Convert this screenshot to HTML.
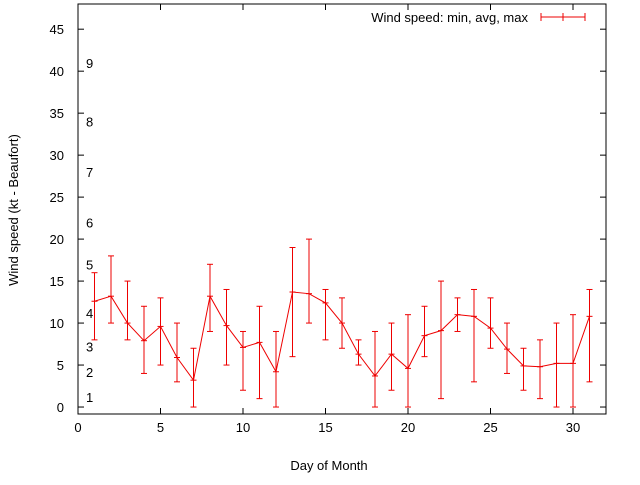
<!DOCTYPE html>
<html><head><meta charset="utf-8"><style>
body{margin:0;background:#fff}
svg text{font-family:"Liberation Sans",sans-serif;font-size:13px;fill:#000}
</style></head><body>
<svg id="chart" width="640" height="480" xmlns="http://www.w3.org/2000/svg">
<rect x="0" y="0" width="640" height="480" fill="#fff"/>
<g id="axes"></g>
<g id="marks"></g>
<text x="329" y="470" text-anchor="middle">Day of Month</text>
<text transform="translate(18,210) rotate(-90)" text-anchor="middle">Wind speed (kt - Beaufort)</text>
<g>
<text x="528" y="22" text-anchor="end">Wind speed: min, avg, max</text>
<line x1="541" y1="17" x2="585" y2="17" stroke="#e00" stroke-width="1"/>
<line x1="541" y1="13" x2="541" y2="21" stroke="#e00"/>
<line x1="585" y1="13" x2="585" y2="21" stroke="#e00"/>
<line x1="563" y1="13" x2="563" y2="21" stroke="#e00"/>
</g>
</svg>
<script>
const days=[1,2,3,4,5,6,7,8,9,10,11,12,13,14,15,16,17,18,19,20,21,22,23,24,25,26,27,28,29,30,31];
const avgs=[12.6,13.2,10.0,7.9,9.6,5.9,3.2,13.2,9.7,7.1,7.7,4.2,13.7,13.5,12.4,10.0,6.3,3.7,6.3,4.6,8.5,9.1,11.0,10.8,9.4,6.9,4.9,4.8,5.2,5.2,10.8];
const mins=[8,10,8,4,5,3,0,9,5,2,1,0,6,10,8,7,5,0,2,0,6,1,9,3,7,4,2,1,0,0,3];
const maxs=[16,18,15,12,13,10,7,17,14,9,12,9,19,20,14,13,8,9,10,11,12,15,13,14,13,10,7,8,10,11,14];
const xTicks=[0,5,10,15,20,25,30];
const yTicks=[0,5,10,15,20,25,30,35,40,45];
const bftLabels=["1","2","3","4","5","6","7","8","9"];
const bftPos=[1.2,4.2,7.2,11.2,17,22,28,34,41];
const L=78,R=606,T=4,B=414;
const X=v=>L+(v-0)*(R-L)/32;
const Y=v=>B-(v+0.83)*(B-T)/48.83;
const NS="http://www.w3.org/2000/svg";
function mk(parent,tag,attrs){const e=document.createElementNS(NS,tag);for(const k in attrs)e.setAttribute(k,attrs[k]);parent.appendChild(e);return e;}
const ax=document.getElementById('axes'),mg=document.getElementById('marks');
const frame=mk(ax,'rect',{x:L,y:T,width:R-L,height:B-T,fill:'none',stroke:'#000'});


xTicks.forEach(t=>{const x=X(t);
mk(ax,'line',{x1:x,y1:B,x2:x,y2:B-6,stroke:'#000'});
mk(ax,'line',{x1:x,y1:T,x2:x,y2:T+6,stroke:'#000'});
const tx=mk(ax,'text',{x:x,y:B+18,'text-anchor':'middle'});tx.textContent=t;

});
yTicks.forEach(t=>{const y=Y(t);
mk(ax,'line',{x1:L,y1:y,x2:L+6,y2:y,stroke:'#000'});
mk(ax,'line',{x1:R,y1:y,x2:R-6,y2:y,stroke:'#000'});
const tx=mk(ax,'text',{x:L-14,y:y+5,'text-anchor':'end'});tx.textContent=t;

});
bftLabels.forEach((s,i)=>{const tx=mk(ax,'text',{x:86,y:Y(bftPos[i])+5});tx.textContent=s;

});
let pts=days.map((d,i)=>X(d)+','+Y(avgs[i])).join(' ');
const pl=mk(mg,'polyline',{points:pts,fill:'none',stroke:'#e00','stroke-width':1});


days.forEach((d,i)=>{const x=X(d),g=mk(mg,'g',{stroke:'#e00','stroke-width':1});


mk(g,'line',{x1:x,y1:Y(mins[i]),x2:x,y2:Y(maxs[i])});
mk(g,'line',{x1:x-3,y1:Y(mins[i]),x2:x+3,y2:Y(mins[i])});
mk(g,'line',{x1:x-3,y1:Y(maxs[i]),x2:x+3,y2:Y(maxs[i])});
mk(g,'line',{x1:x-3,y1:Y(avgs[i]),x2:x+3,y2:Y(avgs[i])});});
</script>
</body></html>
